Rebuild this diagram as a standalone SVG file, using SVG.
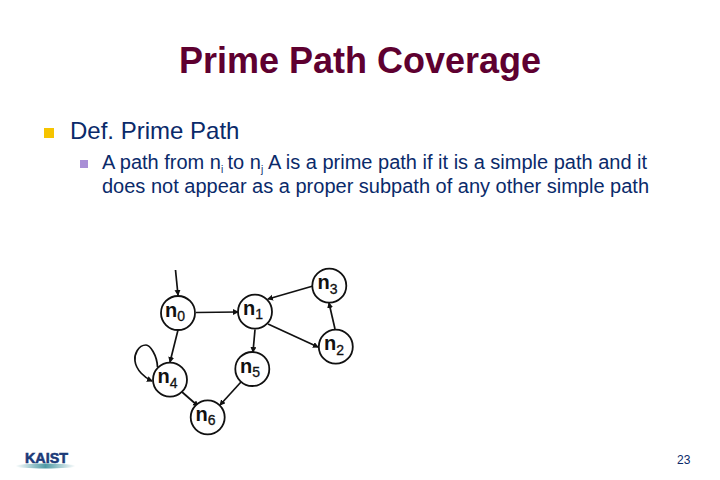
<svg xmlns="http://www.w3.org/2000/svg" width="720" height="480" viewBox="0 0 720 480">
<style>
text{font-family:"Liberation Sans",Arial,sans-serif}
.t{font-size:36px;font-weight:bold;fill:#5e0030;text-anchor:middle}
.b{fill:#0a2a6a}
.l1{font-size:24px}
.l2{font-size:20px}
.sub{font-size:10px}
.n circle{fill:#fff;stroke:#111;stroke-width:1.8}
.n text{font-size:20px;font-weight:bold;fill:#111}
.n tspan{font-size:14px;font-weight:normal;stroke:#111;stroke-width:.3}
#edges path{fill:none;stroke:#111;stroke-width:1.700;marker-end:url(#a)}
</style>
<defs><marker id="a" markerUnits="userSpaceOnUse" markerWidth="7" markerHeight="7" refX="5" refY="3" orient="auto"><path d="M0 0L6 3L0 6z" fill="#111"/></marker>
<linearGradient id="sw" x1="0" x2="1"><stop offset="0" stop-color="#fff"/><stop offset=".5" stop-color="#4f9aa5"/><stop offset="1" stop-color="#fff"/></linearGradient></defs>
<rect width="720" height="480" fill="#fff"/>
<text class="t" x="360" y="73">Prime Path Coverage</text>
<rect x="44" y="128" width="10" height="10" fill="#f6c400"/>
<text class="b l1" x="70" y="139">Def. Prime Path</text>
<rect x="80" y="160" width="8" height="8" fill="#a98fd6"/>
<text class="b l2" x="102" y="169">A path from n</text>
<text class="b sub" x="221" y="173">i</text>
<text class="b l2" x="227.500" y="169">to n</text>
<text class="b sub" x="261" y="173">j</text>
<text class="b l2" x="268" y="169">A is a prime path if it is a simple path and it</text>
<text class="b l2" x="102" y="193">does not appear as a proper subpath of any other simple path</text>
<g id="edges">
<path d="M175.500 270L178 295"/>
<path d="M196 312.500L238 312"/>
<path d="M178 330L170 362"/>
<path d="M255 329.500L253 352"/>
<path d="M268 324L318 347"/>
<path d="M313 286L268 299"/>
<path d="M335 329L329 303"/>
<path d="M241 382L220 405"/>
<path d="M182 392L198 406"/>
<path d="M157.500 367C157 355 150 345 146 345C138 345 134 355 135 361C136 370 145 378 152 381"/>
</g>
<g id="n0" class="n"><circle cx="178" cy="313" r="17"/><text x="165" y="317">n<tspan dy="4">0</tspan></text></g>
<g id="n1" class="n"><circle cx="255" cy="311.700" r="17"/><text x="243" y="315">n<tspan dy="4">1</tspan></text></g>
<g id="n2" class="n"><circle cx="335.800" cy="346.700" r="17"/><text x="324" y="350">n<tspan dy="5">2</tspan></text></g>
<g id="n3" class="n"><circle cx="329.300" cy="285.700" r="17"/><text x="317.500" y="289">n<tspan dy="5">3</tspan></text></g>
<g id="n4" class="n"><circle cx="170" cy="379.700" r="17"/><text x="157.500" y="383">n<tspan dy="5">4</tspan></text></g>
<g id="n5" class="n"><circle cx="252.300" cy="369" r="17"/><text x="240" y="373">n<tspan dy="4">5</tspan></text></g>
<g id="n6" class="n"><circle cx="207.700" cy="417.300" r="17"/><text x="195.500" y="421">n<tspan dy="4">6</tspan></text></g>
<text x="25" y="463" font-size="15.500" font-weight="bold" fill="#1b3a78" stroke="#1b3a78" stroke-width=".6" textLength="43" lengthAdjust="spacingAndGlyphs">KAIST</text>
<ellipse cx="45.500" cy="466" rx="30" ry="2.500" fill="url(#sw)"/>
<text x="677" y="464" font-size="12" fill="#0a2a6a">23</text>
</svg>
